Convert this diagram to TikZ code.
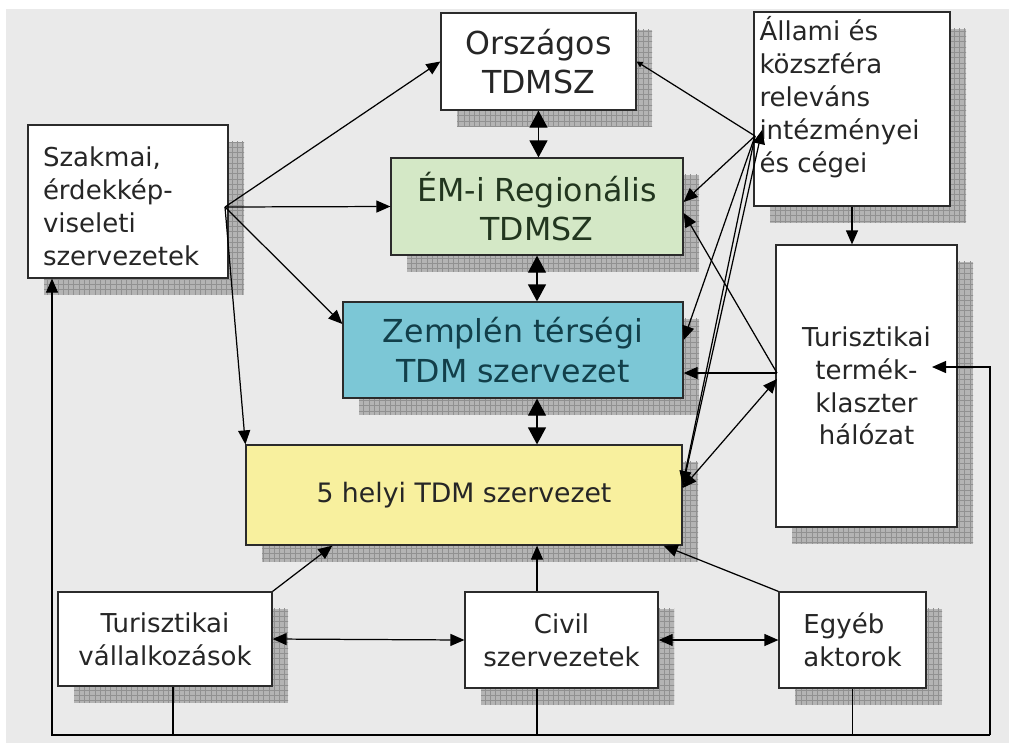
\documentclass[tikz,border=0pt]{standalone}
\usepackage{fontspec}
\setmainfont{DejaVu Sans}
\usepackage{xcolor}
\definecolor{PanelGray} {HTML}{EAEAEA}
\definecolor{ShadowGray}{HTML}{B4B4B4}
\definecolor{ShadowGrid}{HTML}{919191}
\definecolor{BoxLine}   {HTML}{2B2B2B}
\definecolor{TextDark}  {HTML}{262626}
\definecolor{RegGreen}  {HTML}{D4E8C6}
\definecolor{RegText}   {HTML}{22361F}
\definecolor{ZemTeal}   {HTML}{7CC7D6}
\definecolor{ZemText}   {HTML}{123F4A}
\definecolor{HelyYellow}{HTML}{F8F09E}
\usepackage{tikz}
\usetikzlibrary{arrows.meta,positioning,shadows,patterns,calc}
\tikzset{
  tdmbox/.style={rectangle,draw=BoxLine,line width=0.7pt,fill=white,
    text=TextDark,align=center,inner sep=2pt,
    font=\fontsize{14.8}{18.7}\selectfont,
    general shadow={fill=ShadowGray,shadow xshift=0.32cm,shadow yshift=-0.33cm,
      postaction={pattern=grid,pattern color=ShadowGrid}}},
  bigbox/.style={tdmbox,font=\fontsize{18}{22.5}\selectfont},
  arr/.style={-{Triangle[length=0.28cm,width=0.24cm]},line width=0.7pt,black},
  darr/.style={{Triangle[length=0.28cm,width=0.24cm]}-{Triangle[length=0.28cm,width=0.24cm]},
    line width=0.7pt,black},
  vdarr/.style={{Triangle[length=0.34cm,width=0.36cm]}-{Triangle[length=0.34cm,width=0.36cm]},
    line width=0.7pt,black},
  smallarr/.style={-{Triangle[length=0.12cm,width=0.12cm]},line width=0.7pt,black},
  plainline/.style={line width=0.7pt,black},
}
\begin{document}
\begin{tikzpicture}
  \useasboundingbox (0,0) rectangle (20.18,-14.86);
  \fill[PanelGray] (0.12,-0.18) rectangle (20.18,-14.86);

  % boxes
  \node[bigbox,minimum width=3.9cm,minimum height=1.94cm](orszagos)at(10.77,-1.23)
    {Országos\\TDMSZ};
  \node[tdmbox,minimum width=3.92cm,minimum height=3.88cm,inner sep=0pt](allami)at(17.04,-2.18)
    {\parbox[c][3.7cm][t]{3.7cm}{\raggedright Állami és\\közszféra\\releváns\\intézményei\\és cégei}};
  \node[tdmbox,minimum width=4cm,minimum height=3.06cm,inner sep=0pt](szakmai)at(2.56,-4.03)
    {\parbox{3.4cm}{\raggedright\vspace{0.2cm}Szakmai,\\érdekkép-\\viseleti\\szervezetek}};
  \node[bigbox,fill=RegGreen,text=RegText,minimum width=5.84cm,minimum height=1.94cm](emi)
    at(10.74,-4.13){ÉM-i Regionális\\TDMSZ};
  \node[bigbox,fill=ZemTeal,text=ZemText,minimum width=6.8cm,minimum height=1.92cm](zemplen)
    at(10.26,-7.0){Zemplén térségi\\TDM szervezet};
  \node[tdmbox,fill=HelyYellow,minimum width=8.72cm,minimum height=2cm,
    font=\fontsize{15.2}{19}\selectfont](helyi)at(9.28,-9.9){5 helyi TDM szervezet};
  \node[tdmbox,minimum width=3.62cm,minimum height=5.64cm](klaszter)at(17.33,-7.72)
    {Turisztikai\\termék-\\klaszter\\hálózat};
  \node[tdmbox,minimum width=4.28cm,minimum height=1.88cm](vallalk)at(3.3,-12.78)
    {Turisztikai\\vállalkozások};
  \node[tdmbox,minimum width=3.86cm,minimum height=1.92cm](civil)at(11.23,-12.8)
    {Civil\\szervezetek};
  \node[tdmbox,minimum width=2.94cm,minimum height=1.92cm,align=left](egyeb)at(17.05,-12.8)
    {Egyéb\\aktorok};

  % hubs
  \coordinate(szhub)at(4.5,-4.14);
  \coordinate(allhub)at(15.1,-2.72);
  \coordinate(turhub)at(15.54,-7.46);

  \draw[arr](szhub)--(orszagos.west);
  \draw[arr](szhub)--(emi.west);
  \draw[arr](szhub)--([yshift=0.52cm]zemplen.west);
  \draw[arr](szhub)--(helyi.north west);

  \draw[vdarr](orszagos.south)--(orszagos.south|-emi.north);
  \draw[vdarr](emi.south)--(emi.south|-zemplen.north);
  \draw[vdarr](emi.south|-zemplen.south)--(emi.south|-helyi.north);

  \draw[smallarr](allhub)--(orszagos.east);
  \draw[arr](allhub)--([yshift=0.09cm]emi.east);
  \draw[arr](allhub)--([yshift=0.2cm]zemplen.east);
  \draw[arr](allhub)--([yshift=0.2cm]helyi.east);
  \draw[arr]([yshift=0.16cm]helyi.east)--([xshift=0.14cm,yshift=0.12cm]allhub);

  \draw[arr](turhub)--([yshift=-0.13cm]emi.east);
  \draw[arr](turhub)--(zemplen.east|-turhub);
  \draw[darr]([yshift=0.14cm]helyi.east)--([yshift=-0.12cm]turhub);

  \draw[arr](allami.south)--(allami.south|-klaszter.north);

  \draw[arr](vallalk.north east)--([xshift=1.74cm]helyi.south west);
  \draw[arr](emi.south|-civil.north)--(emi.south|-helyi.south);
  \draw[arr](egyeb.north west)--([xshift=-0.38cm]helyi.south east);
  \draw[darr](vallalk.east)--(civil.west);
  \draw[darr](civil.east)--(egyeb.west);

  % feedback lines
  \coordinate(botleft)at(1.04,-14.7);
  \coordinate(botright)at(19.8,-14.7);
  \coordinate(turtip)at(18.64,-7.34);
  \draw[plainline]([xshift=0.16cm]vallalk.south)--([xshift=0.16cm]vallalk.south|-botleft);
  \draw[plainline](emi.south|-civil.south)--(emi.south|-botleft);
  \draw[plainline](egyeb.south)--(egyeb.south|-botleft);
  \draw[arr](botright)--(botleft)--(botleft|-szakmai.south);
  \draw[arr](botright)--(botright|-turtip)--(turtip);
\end{tikzpicture}
\end{document}
